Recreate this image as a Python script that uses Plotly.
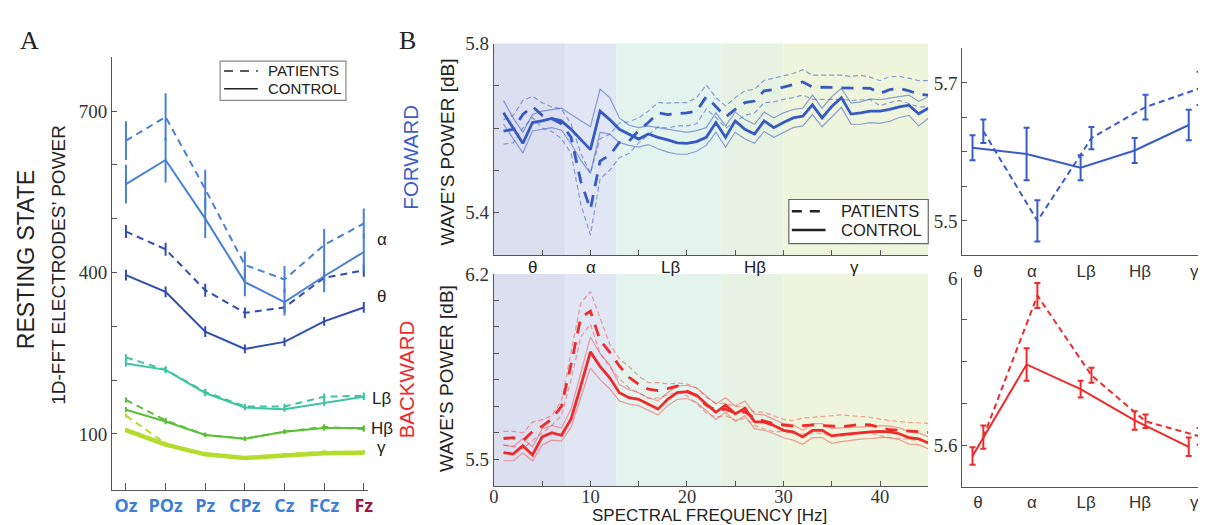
import plotly.graph_objects as go

W, H = 1206, 525

# ---------------- Panel A data ----------------
electrodes = ["Oz", "POz", "Pz", "CPz", "Cz", "FCz", "Fz"]
electrode_colors = ["#3b7fd6", "#3b7fd6", "#3b7fd6", "#3b7fd6", "#3b7fd6", "#3b7fd6", "#9b1a3c"]

alpha_pat = [645, 689, 555, 414, 387, 451, 491]
alpha_pat_err = [36, 44, 36, 25, 25, 30, 28]
alpha_con = [564, 609, 500, 382, 345, 393, 438]
alpha_con_err = [36, 42, 36, 26, 25, 30, 35]
theta_pat = [476, 443, 367, 325, 335, 390, 404]
theta_pat_err = [12, 12, 12, 10, 10, 10, 12]
theta_con = [395, 364, 290, 258, 271, 309, 335]
theta_con_err = [10, 10, 10, 8, 8, 8, 10]
lbeta_pat = [242, 219, 178, 151, 151, 169, 171]
lbeta_con = [231, 219, 176, 149, 146, 158, 169]
lbeta_err = [6, 6, 6, 5, 5, 6, 6]
hbeta_pat = [163, 125, 98, 91, 104, 113, 109]
hbeta_con = [145, 123, 98, 91, 104, 111, 111]
hbeta_err = [5, 5, 4, 4, 4, 5, 5]
gamma_pat = [134, 82, 62, 56, 62, 67, 67]
gamma_con = [107, 80, 62, 55, 60, 64, 65]
gamma_err = [4, 3, 3, 3, 3, 3, 3]

band_names_A = ["α", "θ", "Lβ", "Hβ", "γ"]

# ---------------- Panel B spectra ----------------
freqs = [1, 2, 3, 4, 5, 6, 7, 8, 9, 10, 11, 12, 13, 14, 15, 16, 17, 18, 19, 20, 21, 22, 23,
         24, 25, 26, 27, 28, 29, 30, 31, 32, 33, 34, 35, 36, 37, 38, 39, 40, 41, 42, 43, 44, 45]

fwd_con = [5.636, 5.600, 5.564, 5.613, 5.617, 5.623, 5.617, 5.597, 5.574, 5.549, 5.640, 5.620,
           5.597, 5.586, 5.574, 5.586, 5.578, 5.572, 5.565, 5.564, 5.568, 5.578, 5.613, 5.578,
           5.617, 5.597, 5.586, 5.617, 5.601, 5.613, 5.624, 5.628, 5.655, 5.624, 5.651, 5.672,
           5.633, 5.636, 5.640, 5.640, 5.644, 5.650, 5.654, 5.634, 5.647]
fwd_con_hi = [5.665, 5.624, 5.590, 5.632, 5.640, 5.644, 5.647, 5.632, 5.617, 5.603, 5.692, 5.672,
              5.624, 5.607, 5.601, 5.605, 5.601, 5.597, 5.593, 5.590, 5.594, 5.601, 5.636, 5.605,
              5.638, 5.620, 5.609, 5.638, 5.624, 5.636, 5.644, 5.647, 5.678, 5.647, 5.674, 5.694,
              5.659, 5.662, 5.669, 5.667, 5.671, 5.675, 5.678, 5.663, 5.674]
fwd_con_lo = [5.609, 5.575, 5.541, 5.593, 5.597, 5.601, 5.595, 5.563, 5.524, 5.493, 5.590, 5.586,
              5.566, 5.559, 5.555, 5.561, 5.551, 5.543, 5.538, 5.538, 5.545, 5.559, 5.590, 5.555,
              5.590, 5.574, 5.564, 5.592, 5.578, 5.590, 5.601, 5.605, 5.632, 5.603, 5.626, 5.649,
              5.609, 5.609, 5.613, 5.611, 5.616, 5.625, 5.630, 5.605, 5.623]
fwd_pat = [5.593, 5.597, 5.632, 5.651, 5.630, 5.622, 5.610, 5.578, 5.474, 5.408, 5.522, 5.536,
           5.566, 5.569, 5.594, 5.613, 5.636, 5.632, 5.634, 5.636, 5.640, 5.674, 5.651, 5.626,
           5.644, 5.660, 5.664, 5.688, 5.691, 5.697, 5.703, 5.709, 5.697, 5.697, 5.696, 5.695,
           5.695, 5.695, 5.694, 5.682, 5.691, 5.694, 5.688, 5.680, 5.678]
fwd_pat_hi = [5.620, 5.630, 5.665, 5.675, 5.660, 5.650, 5.645, 5.610, 5.540, 5.493, 5.575, 5.585,
              5.612, 5.615, 5.624, 5.640, 5.660, 5.659, 5.660, 5.660, 5.672, 5.702, 5.672, 5.652,
              5.672, 5.688, 5.692, 5.713, 5.718, 5.723, 5.729, 5.738, 5.725, 5.725, 5.725, 5.725,
              5.722, 5.725, 5.720, 5.712, 5.722, 5.722, 5.718, 5.712, 5.712]
fwd_pat_lo = [5.562, 5.565, 5.600, 5.625, 5.600, 5.592, 5.575, 5.540, 5.420, 5.347, 5.480, 5.500,
              5.530, 5.540, 5.565, 5.583, 5.603, 5.600, 5.605, 5.605, 5.610, 5.645, 5.625, 5.600,
              5.615, 5.630, 5.636, 5.660, 5.662, 5.668, 5.672, 5.678, 5.668, 5.668, 5.668, 5.668,
              5.665, 5.667, 5.667, 5.653, 5.660, 5.665, 5.658, 5.650, 5.650]

bwd_con = [5.526, 5.520, 5.552, 5.517, 5.585, 5.601, 5.591, 5.653, 5.777, 5.906, 5.851, 5.808,
           5.752, 5.733, 5.727, 5.709, 5.690, 5.727, 5.752, 5.756, 5.742, 5.709, 5.678, 5.705,
           5.672, 5.693, 5.643, 5.641, 5.628, 5.610, 5.604, 5.585, 5.610, 5.610, 5.589, 5.594,
           5.598, 5.601, 5.604, 5.606, 5.604, 5.597, 5.582, 5.578, 5.562]
bwd_con_hi = [5.554, 5.548, 5.579, 5.548, 5.616, 5.628, 5.619, 5.690, 5.826, 5.962, 5.900, 5.857,
              5.783, 5.764, 5.752, 5.733, 5.721, 5.752, 5.777, 5.780, 5.770, 5.740, 5.709, 5.733,
              5.702, 5.721, 5.672, 5.668, 5.653, 5.635, 5.631, 5.610, 5.635, 5.635, 5.616, 5.619,
              5.622, 5.622, 5.626, 5.628, 5.626, 5.619, 5.604, 5.600, 5.585]
bwd_con_lo = [5.495, 5.495, 5.524, 5.495, 5.554, 5.573, 5.569, 5.622, 5.733, 5.845, 5.801, 5.767,
              5.721, 5.709, 5.703, 5.684, 5.668, 5.703, 5.727, 5.730, 5.715, 5.684, 5.651, 5.678,
              5.643, 5.665, 5.616, 5.610, 5.598, 5.582, 5.573, 5.557, 5.582, 5.582, 5.561, 5.567,
              5.572, 5.577, 5.579, 5.582, 5.582, 5.575, 5.558, 5.556, 5.540]
bwd_pat = [5.579, 5.582, 5.570, 5.605, 5.625, 5.653, 5.700, 5.860, 6.035, 6.060, 5.950, 5.905,
           5.853, 5.810, 5.784, 5.765, 5.760, 5.767, 5.777, 5.760, 5.740, 5.705, 5.685, 5.690,
           5.675, 5.680, 5.655, 5.645, 5.635, 5.630, 5.626, 5.628, 5.630, 5.628, 5.625, 5.624,
           5.628, 5.632, 5.630, 5.620, 5.612, 5.610, 5.607, 5.604, 5.602]
bwd_pat_hi = [5.606, 5.606, 5.600, 5.641, 5.650, 5.665, 5.720, 5.905, 6.090, 6.134, 6.036, 5.935,
              5.880, 5.850, 5.815, 5.790, 5.790, 5.785, 5.788, 5.785, 5.770, 5.735, 5.712, 5.712,
              5.700, 5.698, 5.680, 5.678, 5.665, 5.651, 5.647, 5.656, 5.659, 5.662, 5.665, 5.668,
              5.665, 5.662, 5.659, 5.652, 5.647, 5.643, 5.640, 5.638, 5.636]
bwd_pat_lo = [5.554, 5.550, 5.540, 5.572, 5.600, 5.628, 5.666, 5.800, 5.962, 6.011, 5.900, 5.850,
              5.805, 5.770, 5.752, 5.730, 5.732, 5.745, 5.755, 5.740, 5.712, 5.675, 5.660, 5.665,
              5.648, 5.655, 5.628, 5.615, 5.605, 5.605, 5.598, 5.596, 5.600, 5.598, 5.590, 5.588,
              5.592, 5.600, 5.600, 5.590, 5.582, 5.580, 5.576, 5.572, 5.568]

band_edges = [0, 7.4, 12.7, 23.6, 30, 45]
band_fill = ["#dcdff0", "#e1e6f4", "#e3f4ef", "#e7f3e2", "#eff5dd"]
band_labels = ["θ", "α", "Lβ", "Hβ", "γ"]
band_label_pos = [3.95, 10.1, 18.3, 27.0, 37.4]

# ---------------- Right panels ----------------
bands = ["θ", "α", "Lβ", "Hβ", "γ"]
fwd_band_con = [5.606, 5.597, 5.577, 5.602, 5.639]
fwd_band_con_err = [0.018, 0.038, 0.018, 0.018, 0.022]
fwd_band_pat = [5.630, 5.500, 5.620, 5.665, 5.692]
fwd_band_pat_err = [0.017, 0.030, 0.016, 0.018, 0.024]
bwd_band_con = [5.574, 5.793, 5.734, 5.659, 5.596]
bwd_band_con_err = [0.021, 0.039, 0.020, 0.022, 0.022]
bwd_band_pat = [5.619, 5.958, 5.767, 5.657, 5.621]
bwd_band_pat_err = [0.028, 0.030, 0.018, 0.016, 0.020]

# ---------------- helpers ----------------
# The page body adds an 8px margin, so page pixel coordinates are shifted by 8.
OFF = 8

def px(x):
    return (x - OFF) / W

def py(y):
    return 1 - (y - OFF) / H

BLUE = "#3759c2"
BLUE_T = "rgba(55,89,194,0.55)"
RED = "#ef2a2a"
RED_T = "rgba(240,70,70,0.50)"
AXC = "#555555"
SERIF = "Liberation Serif, Times New Roman, serif"
SANS = "Liberation Sans, Arial, sans-serif"

fig = go.Figure()

# ---- Panel A traces
A_series = [
    (gamma_con, gamma_err, "#b5dc2c", "solid", 4.5),
    (gamma_pat, gamma_err, "#b5dc2c", "7px,5px", 2),
    (hbeta_con, hbeta_err, "#5cbf3a", "solid", 2),
    (hbeta_pat, hbeta_err, "#5cbf3a", "7px,5px", 2),
    (lbeta_con, lbeta_err, "#3fc4a0", "solid", 2),
    (lbeta_pat, lbeta_err, "#3fc4a0", "7px,5px", 2),
    (theta_con, theta_con_err, "#2f4db0", "solid", 2),
    (theta_pat, theta_pat_err, "#2f4db0", "7px,5px", 2),
    (alpha_con, alpha_con_err, "#4a80d4", "solid", 2),
    (alpha_pat, alpha_pat_err, "#4a80d4", "7px,5px", 2),
]
xA = list(range(len(electrodes)))
for vals, err, col, dash, lw in A_series:
    fig.add_trace(go.Scatter(
        x=xA, y=vals, mode="lines", xaxis="x", yaxis="y",
        line=dict(color=col, width=lw, dash=dash),
        error_y=dict(type="data", array=err, color=col, thickness=2, width=0),
        showlegend=False, hoverinfo="skip"))

# ---- Panel B traces
def spectrum(xax, yax, lo, hi, mean, plo, phi, pmean, c, ct):
    for s in (lo, hi):
        fig.add_trace(go.Scatter(x=freqs, y=s, mode="lines", xaxis=xax, yaxis=yax,
                                 line=dict(color=ct, width=1.2), showlegend=False, hoverinfo="skip"))
    for s in (plo, phi):
        fig.add_trace(go.Scatter(x=freqs, y=s, mode="lines", xaxis=xax, yaxis=yax,
                                 line=dict(color=ct, width=1.2, dash="5px,3px"), showlegend=False,
                                 hoverinfo="skip"))
    fig.add_trace(go.Scatter(x=freqs, y=mean, mode="lines", xaxis=xax, yaxis=yax,
                             line=dict(color=c, width=2.8), showlegend=False, hoverinfo="skip"))
    fig.add_trace(go.Scatter(x=freqs, y=pmean, mode="lines", xaxis=xax, yaxis=yax,
                             line=dict(color=c, width=2.8, dash="12px,9px"), showlegend=False,
                             hoverinfo="skip"))

spectrum("x2", "y2", fwd_con_lo, fwd_con_hi, fwd_con, fwd_pat_lo, fwd_pat_hi, fwd_pat, BLUE, BLUE_T)
spectrum("x3", "y3", bwd_con_lo, bwd_con_hi, bwd_con, bwd_pat_lo, bwd_pat_hi, bwd_pat, RED, RED_T)

# ---- Right panels
xr = list(range(len(bands)))
xr_con = [i - 0.1 for i in xr]
xr_pat = [i + 0.1 for i in xr]
for xax, yax, con, cerr, pat, perr, c in (
        ("x4", "y4", fwd_band_con, fwd_band_con_err, fwd_band_pat, fwd_band_pat_err, "#3a5cc6"),
        ("x5", "y5", bwd_band_con, bwd_band_con_err, bwd_band_pat, bwd_band_pat_err, RED)):
    fig.add_trace(go.Scatter(x=xr_con, y=con, mode="lines", xaxis=xax, yaxis=yax,
                             line=dict(color=c, width=2),
                             error_y=dict(type="data", array=cerr, color=c, thickness=2, width=3),
                             showlegend=False, hoverinfo="skip"))
    fig.add_trace(go.Scatter(x=xr_pat, y=pat, mode="lines", xaxis=xax, yaxis=yax,
                             line=dict(color=c, width=2, dash="6px,4px"),
                             error_y=dict(type="data", array=perr, color=c, thickness=2, width=3),
                             showlegend=False, hoverinfo="skip"))

# ---------------- axes ----------------
tickfont = dict(family=SERIF, size=19, color="#333333")

def ax(**kw):
    d = dict(showgrid=False, zeroline=False, showline=True, linecolor=AXC, linewidth=1,
             ticks="inside", tickcolor=AXC, ticklen=5)
    d.update(kw)
    return d

electrode_text = ["<b><span style='color:%s'>%s</span></b>" % (c, e)
                  for e, c in zip(electrodes, electrode_colors)]

layout = dict(
    xaxis=ax(domain=[px(108), px(366)], range=[-0.35, 6.1], tickvals=xA, ticktext=electrode_text,
             tickfont=dict(family="Open Sans, Liberation Sans, sans-serif", size=18), anchor="y",
             ticklen=7),
    yaxis=ax(domain=[py(489), py(48)], range=[-4, 800],
             tickvals=[100, 200, 300, 400, 500, 600, 700, 800],
             ticktext=["100", "", "", "400", "", "", "700", ""], tickfont=tickfont, anchor="x"),
    xaxis2=ax(domain=[px(493.3), px(931.7)], range=[0, 45],
              tickvals=[5, 10, 15, 20, 25, 30, 35, 40], showticklabels=False, anchor="y2"),
    yaxis2=ax(domain=[py(249.5), py(34)], range=[5.3, 5.8],
              tickvals=[5.4, 5.5, 5.6, 5.7, 5.8], ticktext=["5.4", "", "", "", "5.8"],
              tickfont=tickfont, anchor="x2"),
    xaxis3=ax(domain=[px(493.3), px(931.7)], range=[0, 45],
              tickvals=[0, 5, 10, 15, 20, 25, 30, 35, 40, 45],
              ticktext=["0", "", "10", "", "20", "", "30", "", "40", ""],
              tickfont=dict(family=SERIF, size=18.5, color="#333333"), anchor="y3",
              ticklabelstandoff=-6),
    yaxis3=ax(domain=[py(485), py(269)], range=[5.4, 6.2],
              tickvals=[5.5, 5.6, 5.7, 5.8, 5.9, 6.0, 6.1, 6.2],
              ticktext=["5.5", "", "", "", "", "", "", "6.2"],
              tickfont=tickfont, anchor="x3"),
    xaxis4=ax(domain=[px(966), px(1206)], range=[-0.29, 4.11], tickvals=xr, ticktext=bands,
              tickfont=dict(family=SANS, size=17, color="#333333"), anchor="y4", ticks=""),
    yaxis4=ax(domain=[py(250), py(39)], range=[5.45, 5.75],
              tickvals=[5.5, 5.55, 5.6, 5.65, 5.7, 5.75],
              ticktext=["5.5", "", "", "", "5.7", ""], tickfont=tickfont, anchor="x4"),
    xaxis5=ax(domain=[px(966), px(1206)], range=[-0.29, 4.11], tickvals=xr, ticktext=bands,
              tickfont=dict(family=SANS, size=17, color="#333333"), anchor="y5", ticks=""),
    yaxis5=ax(domain=[py(486), py(273)], range=[5.5, 6.0],
              tickvals=[5.6, 5.7, 5.8, 5.9, 6.0],
              ticktext=["5.6", "", "", "", "6"], tickfont=tickfont, anchor="x5"),
)

# ---------------- shapes ----------------
shapes = []
for xr_, yr_ in (("x2", "y2 domain"), ("x3", "y3 domain")):
    for i in range(len(band_fill)):
        shapes.append(dict(type="rect", xref=xr_, yref=yr_, x0=band_edges[i], x1=band_edges[i + 1],
                           y0=0, y1=1, fillcolor=band_fill[i], line=dict(width=0), layer="below"))

# legend A
shapes.append(dict(type="rect", xref="paper", yref="paper", x0=px(217), x1=px(344), y0=py(92), y1=py(52),
                   fillcolor="white", line=dict(color="#888888", width=1.2)))
shapes.append(dict(type="line", xref="paper", yref="paper", x0=px(221), x1=px(255), y0=py(62), y1=py(62),
                   line=dict(color="#222222", width=1.5, dash="9px,7px")))
shapes.append(dict(type="line", xref="paper", yref="paper", x0=px(221), x1=px(255), y0=py(80), y1=py(80),
                   line=dict(color="#222222", width=1.5)))
# legend B
shapes.append(dict(type="rect", xref="paper", yref="paper", x0=px(791), x1=px(931.7), y0=py(238), y1=py(193),
                   fillcolor="white", line=dict(color="#666666", width=1.2)))
shapes.append(dict(type="line", xref="paper", yref="paper", x0=px(794), x1=px(828), y0=py(205), y1=py(205),
                   line=dict(color="#222222", width=2.5, dash="10px,8px")))
shapes.append(dict(type="line", xref="paper", yref="paper", x0=px(794), x1=px(828), y0=py(224), y1=py(224),
                   line=dict(color="#222222", width=2.5)))

# ---------------- annotations ----------------
ann = []

def text(x, y, s, size, color="#222222", family=SANS, angle=0, xanchor="center", xref="paper", xval=None):
    ann.append(dict(x=px(x) if xval is None else xval, y=py(y), xref=xref, yref="paper", text=s,
                    showarrow=False, textangle=angle, xanchor=xanchor, yanchor="middle",
                    font=dict(family=family, size=size, color=color)))

text(25, 31, "A", 26, family=SERIF)
text(406, 31, "B", 26, family=SERIF)
text(21, 254, "RESTING STATE", 23, angle=-90)
text(54, 260, "1D-FFT ELECTRODES’ POWER", 19, angle=-90)
text(409, 150, "FORWARD", 20.5, color="#3d5ec8", angle=-90)
text(446, 145, "WAVE’S POWER [dB]", 19, angle=-90)
text(406, 376, "BACKWARD", 20.5, color="#f0282d", angle=-90)
text(446, 376, "WAVE’S POWER [dB]", 19, angle=-90)
text(711, 515, "SPECTRAL FREQUENCY [Hz]", 17)

for lbl, yy in zip(band_names_A, [234, 292, 396, 426, 446]):
    text(380, yy, lbl, 17)
for lbl, pos in zip(band_labels, band_label_pos):
    text(0, 262, lbl, 17, xref="x2", xval=pos)

text(263, 62, "PATIENTS", 15, xanchor="left")
text(263, 80, "CONTROL", 15, xanchor="left")
text(842, 205, "PATIENTS", 16.5, xanchor="left")
text(842, 224, "CONTROL", 16.5, xanchor="left")

fig.update_layout(
    width=W, height=H, autosize=False, margin=dict(l=0, r=0, t=0, b=0),
    paper_bgcolor="white", plot_bgcolor="white", showlegend=False,
    shapes=shapes, annotations=ann, **layout)

fig.write_html("out.html")
